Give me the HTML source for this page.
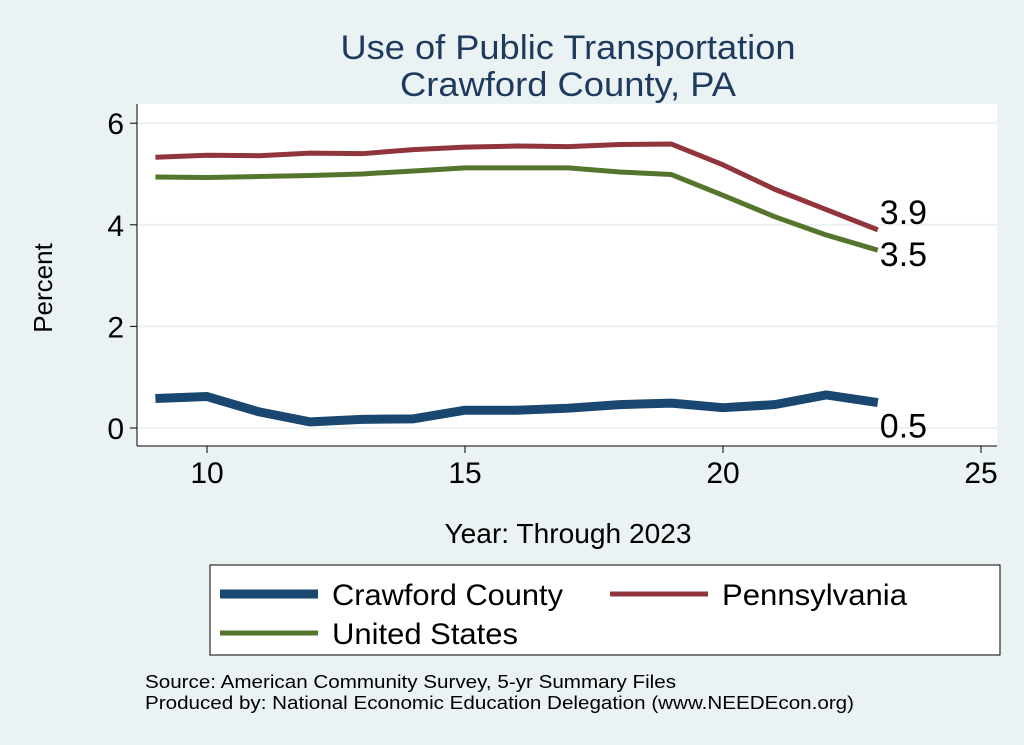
<!DOCTYPE html>
<html><head><meta charset="utf-8"><style>
body{margin:0;background:#fff;}
svg{display:block;font-family:"Liberation Sans",sans-serif;}
</style></head><body>
<svg width="1024" height="745">
<rect x="0" y="0" width="1024" height="745" fill="#eaf2f3"/>
<text x="568" y="59" font-size="34" text-anchor="middle" fill="#1e3a5f" textLength="455" lengthAdjust="spacingAndGlyphs">Use of Public Transportation</text>
<text x="568" y="96" font-size="34" text-anchor="middle" fill="#1e3a5f" textLength="336" lengthAdjust="spacingAndGlyphs">Crawford County, PA</text>
<rect x="137" y="104" width="860" height="342" fill="#fff"/>
<g id="grid"></g><g id="axes"></g><g id="series"></g>
<text x="568" y="543" font-size="28" text-anchor="middle" textLength="247" lengthAdjust="spacingAndGlyphs">Year: Through 2023</text>
<text transform="translate(52,288) rotate(-90)" font-size="26" text-anchor="middle">Percent</text>
<g>
<rect x="210" y="565" width="790" height="90" fill="#fff" stroke="#000" stroke-width="1"/>
<line x1="220" y1="594" x2="318" y2="594" stroke="#1a476f" stroke-width="9"/>
<text x="332" y="605" font-size="30" textLength="231" lengthAdjust="spacingAndGlyphs">Crawford County</text>
<line x1="610" y1="594" x2="708" y2="594" stroke="#90353b" stroke-width="5"/>
<text x="722" y="605" font-size="30" textLength="185" lengthAdjust="spacingAndGlyphs">Pennsylvania</text>
<line x1="220" y1="633" x2="318" y2="633" stroke="#55752f" stroke-width="5"/>
<text x="332" y="644" font-size="30" textLength="186" lengthAdjust="spacingAndGlyphs">United States</text>
</g>
<text x="145" y="688" font-size="18" textLength="531" lengthAdjust="spacingAndGlyphs">Source: American Community Survey, 5-yr Summary Files</text>
<text x="145" y="709" font-size="18" textLength="709" lengthAdjust="spacingAndGlyphs">Produced by: National Economic Education Delegation (www.NEEDEcon.org)</text>
</svg>
<script>
const years=[9,10,11,12,13,14,15,16,17,18,19,20,21,22,23];
const crawford=[0.58,0.62,0.32,0.12,0.17,0.18,0.35,0.35,0.39,0.46,0.49,0.40,0.46,0.65,0.5];
const pennsylvania=[5.33,5.37,5.36,5.41,5.40,5.48,5.53,5.55,5.54,5.58,5.59,5.18,4.70,4.30,3.9];
const unitedStates=[4.94,4.93,4.95,4.97,5.0,5.06,5.12,5.12,5.12,5.04,4.99,4.58,4.16,3.80,3.5];
const xTicks=[10,15,20,25];
const yTicks=[0,2,4,6];
const endLabels=["0.5","3.9","3.5"];
const NS="http://www.w3.org/2000/svg";
const X=v=>207+(v-10)*51.6;
const Y=v=>428-v*50.8;
function mk(t,a,p){const e=document.createElementNS(NS,t);for(const k in a)e.setAttribute(k,a[k]);p.appendChild(e);return e;}
const grid=document.getElementById('grid'),axes=document.getElementById('axes'),ser=document.getElementById('series');
yTicks.forEach(v=>{
 const g=mk('line',{x1:137,x2:997,y1:Y(v),y2:Y(v),stroke:'#eaf2f3','stroke-width':2},grid);
 
 
 mk('line',{x1:130,x2:137,y1:Y(v),y2:Y(v),stroke:'#000'},axes);
 const t=mk('text',{x:124,y:Y(v)+11,'font-size':30,'text-anchor':'end'},axes);t.textContent=v;
 
 
});
mk('line',{x1:137,x2:137,y1:104,y2:446,stroke:'#000'},axes);
mk('line',{x1:137,x2:997,y1:446,y2:446,stroke:'#000'},axes);
xTicks.forEach(v=>{
 mk('line',{x1:X(v),x2:X(v),y1:446,y2:453,stroke:'#000'},axes);
 const t=mk('text',{x:X(v),y:483,'font-size':30,'text-anchor':'middle'},axes);t.textContent=v;
 
 
});
const series=[[crawford,'#1a476f',9,'crawford-line',0,35],[pennsylvania,'#90353b',5,'pennsylvania-line',0,-6],[unitedStates,'#55752f',5,'us-line',0,16]];
series.forEach((s,i)=>{
 const d=years.map((y,j)=>(j?'L':'M')+X(y)+' '+Y(s[0][j])).join(' ');
 const p=mk('path',{d:d,fill:'none',stroke:s[1],'stroke-width':s[2],'stroke-linejoin':'round'},ser);
 
 
 const last=s[0][s[0].length-1];
 const t=mk('text',{x:X(years[years.length-1])+2,y:Y(last)+s[5],'font-size':34},ser);t.textContent=endLabels[i];
 
 
});
</script>
</body></html>
